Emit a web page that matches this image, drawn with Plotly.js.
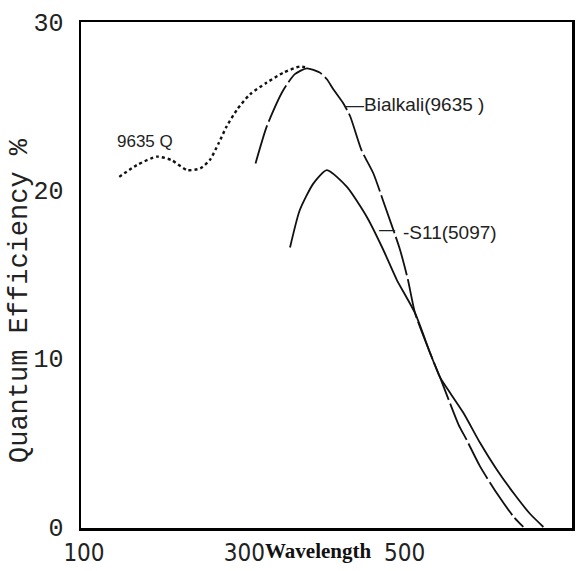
<!DOCTYPE html>
<html>
<head>
<meta charset="utf-8">
<script src="https://cdn.plot.ly/plotly-3.0.1.min.js"></script>
<style>html,body{margin:0;padding:0;background:#fff;}#chart{width:584px;height:571px;}</style>
</head>
<body>
<div id="chart"></div>
<script>
// Wavelength (nm) and quantum efficiency (%)
var q9635Wavelength = [144, 166, 191, 209, 229, 245, 257, 268, 278, 291, 307, 328, 349, 369, 377];
var q9635QE         = [20.8, 21.5, 22.0, 21.8, 21.2, 21.3, 21.8, 22.8, 23.8, 24.8, 25.7, 26.4, 27.0, 27.35, 27.3];

var bialkaliWavelength = [314, 328, 348, 363, 378, 394, 403, 411, 423, 432, 446, 461, 473, 494, 504, 513, 532, 544, 567, 577, 594, 615, 636, 648];
var bialkaliQE         = [21.6, 23.8, 25.9, 26.9, 27.25, 27.0, 26.6, 26.0, 25.2, 24.4, 22.4, 21.0, 19.4, 16.5, 14.7, 12.7, 10.3, 8.9, 6.1, 5.2, 3.6, 2.0, 0.6, 0];

var s11Wavelength = [357, 369, 386, 403, 428, 453, 473, 490, 513, 532, 544, 552, 573, 594, 615, 636, 656, 673];
var s11QE         = [16.6, 18.8, 20.4, 21.2, 20.2, 18.4, 16.5, 14.7, 12.7, 10.3, 8.9, 8.3, 6.8, 5.0, 3.4, 2.0, 0.8, 0];

var xTickVals = [100, 300, 500, 700];
var xTickText = ['100', '300', '500', '700'];
var yTickVals = [0, 10, 20, 30];
var yTickText = ['0', '10', '20', '30'];

var ink = '#111';

var traces = [
  {x: q9635Wavelength, y: q9635QE, mode: 'lines', name: '9635 Q',
   line: {color: ink, width: 2.4, dash: 'dot', shape: 'spline', smoothing: 0.6}},
  {x: bialkaliWavelength, y: bialkaliQE, mode: 'lines', name: 'Bialkali(9635 )',
   line: {color: ink, width: 1.8, dash: '40px,4px', shape: 'spline', smoothing: 0.6}},
  {x: s11Wavelength, y: s11QE, mode: 'lines', name: 'S11(5097)',
   line: {color: ink, width: 1.8, shape: 'spline', smoothing: 0.6}}
];

var labelFont = {family: 'Liberation Sans, Arial, sans-serif', size: 17, color: '#222'};

var layout = {
  width: 584, height: 571,
  margin: {l: 81, r: 12, t: 22, b: 43},
  paper_bgcolor: '#fff', plot_bgcolor: '#fff',
  showlegend: false,
  xaxis: {
    range: [96.3, 708.7], tickvals: xTickVals, ticktext: xTickText,
    showgrid: false, zeroline: false,
    showline: true, mirror: true, linecolor: '#000', linewidth: 2.5,
    ticks: 'outside', ticklen: 2, tickcolor: 'rgba(0,0,0,0)',
    tickfont: {family: 'Liberation Sans Narrow, DejaVu Sans Condensed, sans-serif', size: 24, color: '#222'}
  },
  yaxis: {
    range: [-0.06, 30], tickvals: yTickVals, ticktext: yTickText,
    showgrid: false, zeroline: false,
    showline: true, mirror: true, linecolor: '#000', linewidth: 2.5,
    ticks: 'outside', ticklen: 10, tickcolor: 'rgba(0,0,0,0)',
    tickfont: {family: 'Liberation Mono, DejaVu Sans Mono, monospace', size: 25, color: '#222'}
  },
  annotations: [
    {xref: 'paper', yref: 'paper', x: 0.4827, y: -0.0455, xanchor: 'center', yanchor: 'middle',
     text: 'Wavelength', showarrow: false,
     font: {family: 'Liberation Serif, Times New Roman, serif', size: 21, color: '#111', weight: 'bold'}},
    {xref: 'paper', yref: 'paper', x: -0.1242, y: 0.4486, xanchor: 'center', yanchor: 'middle',
     text: 'Quantum Efficiency %', textangle: -90, showarrow: false,
     font: {family: 'Liberation Mono, DejaVu Sans Mono, monospace', size: 27, color: '#222'}},
    {x: 176, y: 22.9, xanchor: 'center', yanchor: 'middle', text: '9635 Q', showarrow: false, font: labelFont},
    {x: 423, y: 25.1, xanchor: 'left', yanchor: 'middle', text: '\u2014Bialkali(9635 )', showarrow: false,
     font: {family: 'Liberation Sans, Arial, sans-serif', size: 19, color: '#222'}},
    {x: 465, y: 17.7, xanchor: 'left', yanchor: 'middle', text: '\u2014', showarrow: false,
     font: {family: 'Liberation Sans, Arial, sans-serif', size: 16, color: '#222'}},
    {x: 496, y: 17.5, xanchor: 'left', yanchor: 'middle', text: '-S11(5097)', showarrow: false,
     font: {family: 'Liberation Sans, Arial, sans-serif', size: 19, color: '#222'}}
  ]
};

Plotly.newPlot('chart', traces, layout, {displayModeBar: false, staticPlot: true});
</script>
</body>
</html>
